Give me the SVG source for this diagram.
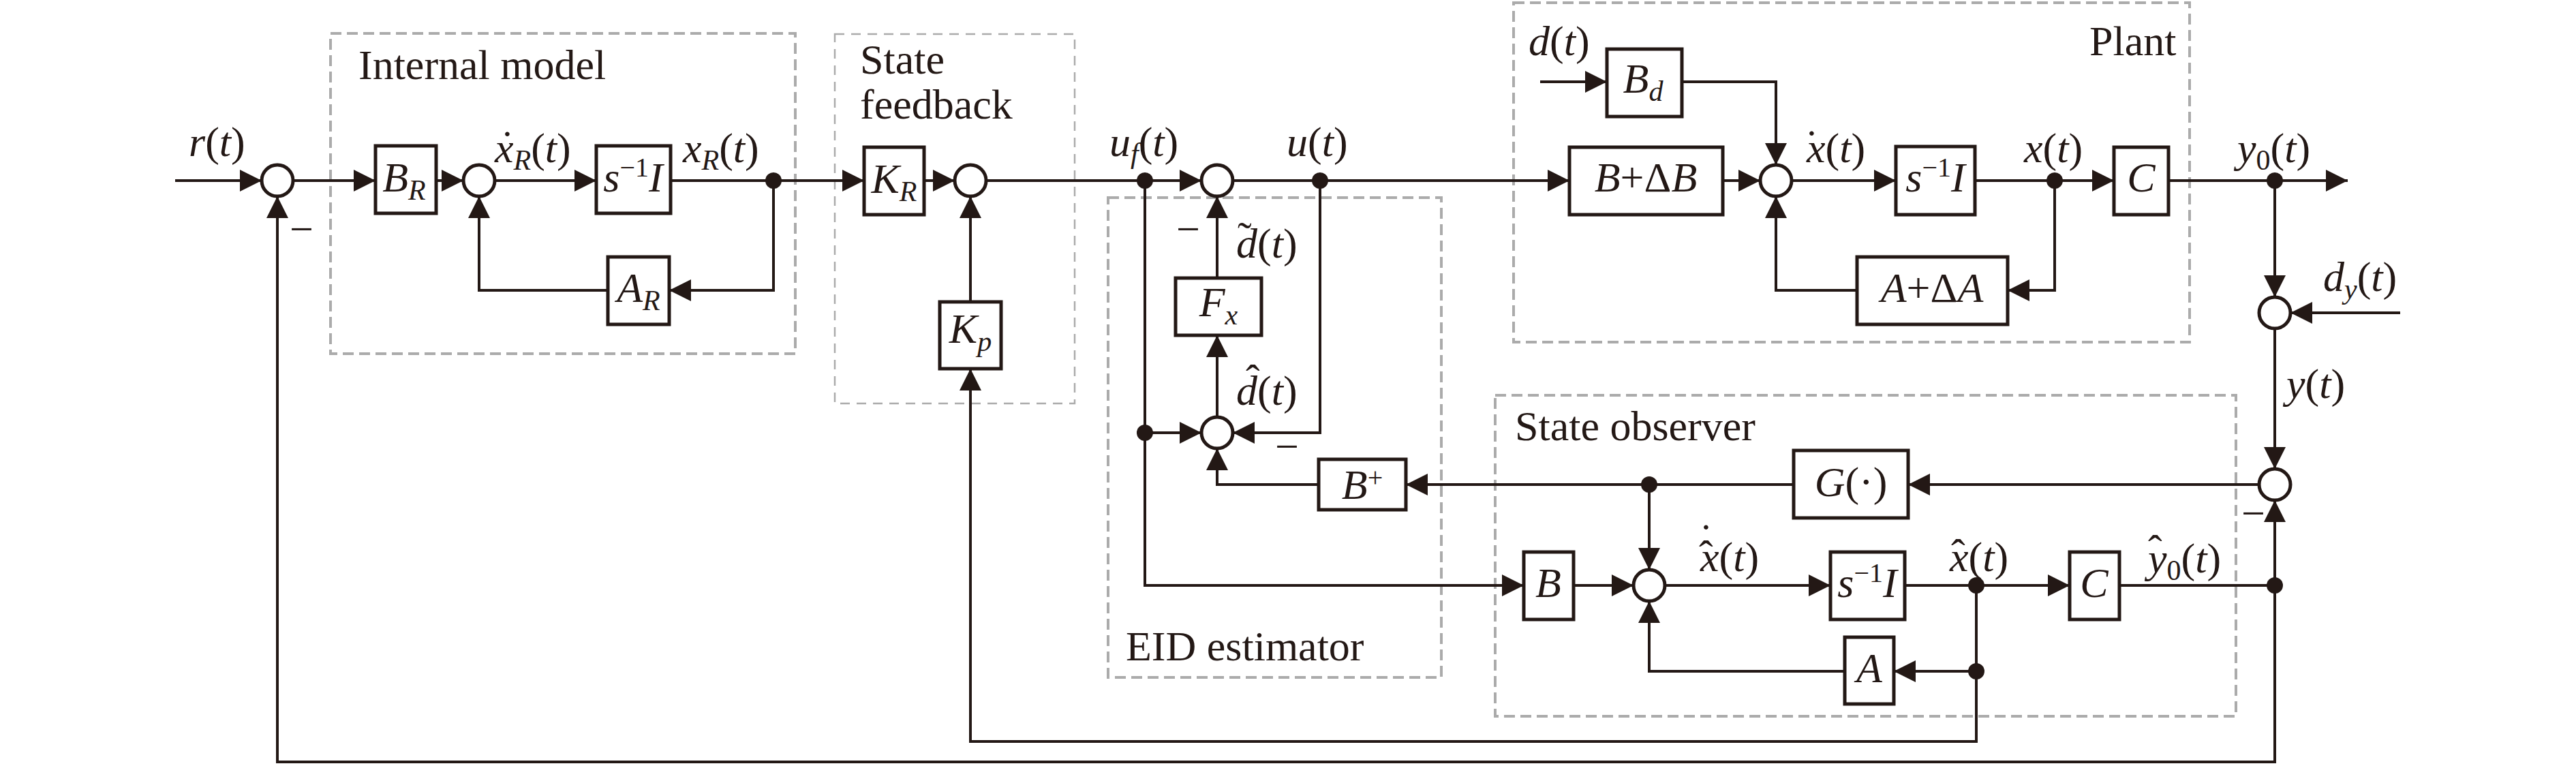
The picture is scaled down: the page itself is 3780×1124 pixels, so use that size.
<svg xmlns="http://www.w3.org/2000/svg" width="3780" height="1124" viewBox="0 0 3780 1124">
<defs>
<marker id="arr" markerUnits="userSpaceOnUse" markerWidth="32" markerHeight="32" viewBox="0 0 32 32" refX="32" refY="16" orient="auto">
<path d="M0,0 L32,16 L0,32 Z" fill="#231815"/>
</marker>
</defs>
<style>
.t{font-family:"Liberation Serif","Times New Roman",serif;font-size:62px;fill:#231815}
.i{font-style:italic}
.s{font-size:42px}
.sp{font-size:40px}
.c{text-anchor:middle}
.box{fill:#fff;stroke:#231815;stroke-width:5}
.sum{fill:#fff;stroke:#231815;stroke-width:5}
.dot{fill:#231815}
.grp{fill:none;stroke:#ababab;stroke-width:4;stroke-dasharray:16 8}
.grp2{fill:none;stroke:#ababab;stroke-width:2.5;stroke-dasharray:14 10}
</style>
<rect width="3780" height="1124" fill="#fff"/>

<g id="groups">
<g id="internal-model"><rect class="grp" x="485" y="49" width="682" height="470"/><text class="t" x="526" y="116">Internal model</text></g>
<g id="state-feedback"><rect class="grp2" x="1225" y="50" width="352" height="542"/><text class="t" x="1262" y="108">State</text><text class="t" x="1262" y="174">feedback</text></g>
<g id="eid-estimator"><rect class="grp" x="1626" y="290" width="489" height="704"/><text class="t" x="1652" y="969">EID estimator</text></g>
<g id="plant"><rect class="grp" x="2221" y="4" width="992" height="498"/><text class="t" x="3066" y="81">Plant</text></g>
<g id="state-observer"><rect class="grp" x="2194" y="580" width="1087" height="471"/><text class="t" x="2223" y="646">State observer</text></g>
</g>

<g id="connectors" fill="none" stroke="#231815" stroke-width="4">
<path d="M257,265H384" marker-end="url(#arr)"/>
<path d="M430,265H551" marker-end="url(#arr)"/>
<path d="M640,265H680" marker-end="url(#arr)"/>
<path d="M726,265H875" marker-end="url(#arr)"/>
<path d="M984,265H1268" marker-end="url(#arr)"/>
<path d="M1135,265V426H982" marker-end="url(#arr)"/>
<path d="M892,426H703V288" marker-end="url(#arr)"/>
<path d="M1356,265H1401" marker-end="url(#arr)"/>
<path d="M1447,265H1763" marker-end="url(#arr)"/>
<path d="M1424,443V288" marker-end="url(#arr)"/>
<path d="M1680,265V859H2236" marker-end="url(#arr)"/>
<path d="M1680,635H1763" marker-end="url(#arr)"/>
<path d="M1809,265H2303" marker-end="url(#arr)"/>
<path d="M1937,265V635H1809" marker-end="url(#arr)"/>
<path d="M1786,408V288" marker-end="url(#arr)"/>
<path d="M1786,612V492" marker-end="url(#arr)"/>
<path d="M1935,711H1786V658" marker-end="url(#arr)"/>
<path d="M2632,711H2063" marker-end="url(#arr)"/>
<path d="M2420,711V836" marker-end="url(#arr)"/>
<path d="M2309,859H2397" marker-end="url(#arr)"/>
<path d="M2443,859H2686" marker-end="url(#arr)"/>
<path d="M2795,859H3037" marker-end="url(#arr)"/>
<path d="M2900,859V1088H1424V541" marker-end="url(#arr)"/>
<path d="M2900,985H2779" marker-end="url(#arr)"/>
<path d="M2707,985H2420V882" marker-end="url(#arr)"/>
<path d="M3110,859H3338"/>
<path d="M3338,859V734" marker-end="url(#arr)"/>
<path d="M3338,859V1118H407V288" marker-end="url(#arr)"/>
<path d="M3315,711H2800" marker-end="url(#arr)"/>
<path d="M3338,482V688" marker-end="url(#arr)"/>
<path d="M3338,265V436" marker-end="url(#arr)"/>
<path d="M3522,459H3361" marker-end="url(#arr)"/>
<path d="M3182,265H3445" marker-end="url(#arr)"/>
<path d="M2528,265H2583" marker-end="url(#arr)"/>
<path d="M2629,265H2782" marker-end="url(#arr)"/>
<path d="M2898,265H3102" marker-end="url(#arr)"/>
<path d="M3015,265V426H2946" marker-end="url(#arr)"/>
<path d="M2725,426H2606V288" marker-end="url(#arr)"/>
<path d="M2260,120H2358" marker-end="url(#arr)"/>
<path d="M2468,120H2606V242" marker-end="url(#arr)"/>
</g>

<g id="junctions">
<circle class="dot" cx="1135" cy="265" r="12"/>
<circle class="dot" cx="1680" cy="265" r="12"/>
<circle class="dot" cx="1937" cy="265" r="12"/>
<circle class="dot" cx="3015" cy="265" r="12"/>
<circle class="dot" cx="3338" cy="265" r="12"/>
<circle class="dot" cx="1680" cy="635" r="12"/>
<circle class="dot" cx="2420" cy="711" r="12"/>
<circle class="dot" cx="2900" cy="859" r="12"/>
<circle class="dot" cx="2900" cy="985" r="12"/>
<circle class="dot" cx="3338" cy="859" r="12"/>
</g>

<g id="sum1"><circle class="sum" cx="407" cy="265" r="23"/></g>
<g id="sum2"><circle class="sum" cx="703" cy="265" r="23"/></g>
<g id="sum3"><circle class="sum" cx="1424" cy="265" r="23"/></g>
<g id="sum4"><circle class="sum" cx="1786" cy="265" r="23"/></g>
<g id="sum5"><circle class="sum" cx="1786" cy="635" r="23"/></g>
<g id="sum6"><circle class="sum" cx="2606" cy="265" r="23"/></g>
<g id="sum7"><circle class="sum" cx="3338" cy="459" r="23"/></g>
<g id="sum8"><circle class="sum" cx="3338" cy="711" r="23"/></g>
<g id="sum9"><circle class="sum" cx="2420" cy="859" r="23"/></g>

<g id="BR"><rect class="box" x="551" y="214" width="89" height="99"/><text class="t c" x="593" y="281"><tspan class="i">B</tspan><tspan class="i s" dy="12">R</tspan></text></g>
<g id="sI1"><rect class="box" x="875" y="214" width="109" height="99"/><text class="t c" x="929" y="281"><tspan class="i">s</tspan><tspan class="sp" dy="-22">−1</tspan><tspan class="i" dy="22">I</tspan></text></g>
<g id="AR"><rect class="box" x="892" y="377" width="90" height="99"/><text class="t c" x="937" y="443"><tspan class="i">A</tspan><tspan class="i s" dy="12">R</tspan></text></g>
<g id="KR"><rect class="box" x="1268" y="216" width="88" height="99"/><text class="t c" x="1312" y="283"><tspan class="i">K</tspan><tspan class="i s" dy="12">R</tspan></text></g>
<g id="Kp"><rect class="box" x="1379" y="443" width="90" height="98"/><text class="t c" x="1424" y="503"><tspan class="i">K</tspan><tspan class="i s" dy="12">p</tspan></text></g>
<g id="Fx"><rect class="box" x="1725" y="408" width="126" height="84"/><text class="t c" x="1788" y="464"><tspan class="i">F</tspan><tspan class="i s" dy="12">x</tspan></text></g>
<g id="Bd"><rect class="box" x="2358" y="72" width="110" height="99"/><text class="t c" x="2411" y="136"><tspan class="i">B</tspan><tspan class="i s" dy="12">d</tspan></text></g>
<g id="BdB"><rect class="box" x="2303" y="216" width="225" height="99"/><text class="t c" x="2415" y="281"><tspan class="i">B</tspan>+Δ<tspan class="i">B</tspan></text></g>
<g id="sI2"><rect class="box" x="2782" y="215" width="116" height="100"/><text class="t c" x="2840" y="281"><tspan class="i">s</tspan><tspan class="sp" dy="-22">−1</tspan><tspan class="i" dy="22">I</tspan></text></g>
<g id="C1"><rect class="box" x="3102" y="216" width="80" height="99"/><text class="t c i" x="3142" y="281">C</text></g>
<g id="AdA"><rect class="box" x="2725" y="377" width="221" height="99"/><text class="t c" x="2835" y="443"><tspan class="i">A</tspan>+Δ<tspan class="i">A</tspan></text></g>
<g id="G"><rect class="box" x="2632" y="661" width="168" height="99"/><text class="t c" x="2716" y="728"><tspan class="i">G</tspan>(·)</text></g>
<g id="Bplus"><rect class="box" x="1935" y="674" width="128" height="74"/><text class="t c" x="1999" y="732"><tspan class="i">B</tspan><tspan class="sp" dy="-18">+</tspan></text></g>
<g id="B"><rect class="box" x="2236" y="810" width="73" height="99"/><text class="t c i" x="2272" y="876">B</text></g>
<g id="sI3"><rect class="box" x="2686" y="810" width="109" height="99"/><text class="t c" x="2740" y="876"><tspan class="i">s</tspan><tspan class="sp" dy="-22">−1</tspan><tspan class="i" dy="22">I</tspan></text></g>
<g id="C2"><rect class="box" x="3037" y="810" width="73" height="99"/><text class="t c i" x="3073" y="876">C</text></g>
<g id="A"><rect class="box" x="2707" y="935" width="72" height="98"/><text class="t c i" x="2743" y="1001">A</text></g>

<g id="labels">
<text class="t" x="277" y="229"><tspan class="i">r</tspan>(<tspan class="i">t</tspan>)</text>
<text class="t" x="726" y="238"><tspan class="i">x</tspan><tspan class="i s" dy="11">R</tspan><tspan dy="-11">(</tspan><tspan class="i">t</tspan>)<tspan x="734" y="234">˙</tspan></text>
<text class="t" x="1002" y="238"><tspan class="i">x</tspan><tspan class="i s" dy="11">R</tspan><tspan dy="-11">(</tspan><tspan class="i">t</tspan>)</text>
<text class="t" x="1628" y="229"><tspan class="i">u</tspan><tspan class="i s" dy="10">f</tspan><tspan dy="-10">(</tspan><tspan class="i">t</tspan>)</text>
<text class="t" x="1888" y="229"><tspan class="i">u</tspan>(<tspan class="i">t</tspan>)</text>
<text class="t" x="1814" y="378"><tspan class="i">d</tspan>(<tspan class="i">t</tspan>)<tspan x="1816" y="369">˜</tspan></text>
<text class="t" x="1814" y="594"><tspan class="i">d</tspan>(<tspan class="i">t</tspan>)<tspan x="1828" y="578">ˆ</tspan></text>
<text class="t" x="2243" y="81"><tspan class="i">d</tspan>(<tspan class="i">t</tspan>)</text>
<text class="t" x="2651" y="238"><tspan class="i">x</tspan>(<tspan class="i">t</tspan>)<tspan x="2648" y="233">˙</tspan></text>
<text class="t" x="2970" y="238"><tspan class="i">x</tspan>(<tspan class="i">t</tspan>)</text>
<text class="t" x="3283" y="238"><tspan class="i">y</tspan><tspan class="s" dy="11">0</tspan><tspan dy="-11">(</tspan><tspan class="i">t</tspan>)</text>
<text class="t" x="3409" y="427"><tspan class="i">d</tspan><tspan class="i s" dy="11">y</tspan><tspan dy="-11">(</tspan><tspan class="i">t</tspan>)</text>
<text class="t" x="3355" y="584"><tspan class="i">y</tspan>(<tspan class="i">t</tspan>)</text>
<text class="t" x="2495" y="838"><tspan class="i">x</tspan>(<tspan class="i">t</tspan>)<tspan x="2493" y="836">ˆ</tspan><tspan x="2493" y="811">˙</tspan></text>
<text class="t" x="2861" y="838"><tspan class="i">x</tspan>(<tspan class="i">t</tspan>)<tspan x="2863" y="834">ˆ</tspan></text>
<text class="t" x="3152" y="840"><tspan class="i">y</tspan><tspan class="s" dy="11">0</tspan><tspan dy="-11">(</tspan><tspan class="i">t</tspan>)<tspan x="3152" y="828">ˆ</tspan></text>
<text class="t" x="425" y="357">−</text>
<text class="t" x="1726" y="357">−</text>
<text class="t" x="1871" y="676">−</text>
<text class="t" x="3289" y="774">−</text>
</g>
</svg>
